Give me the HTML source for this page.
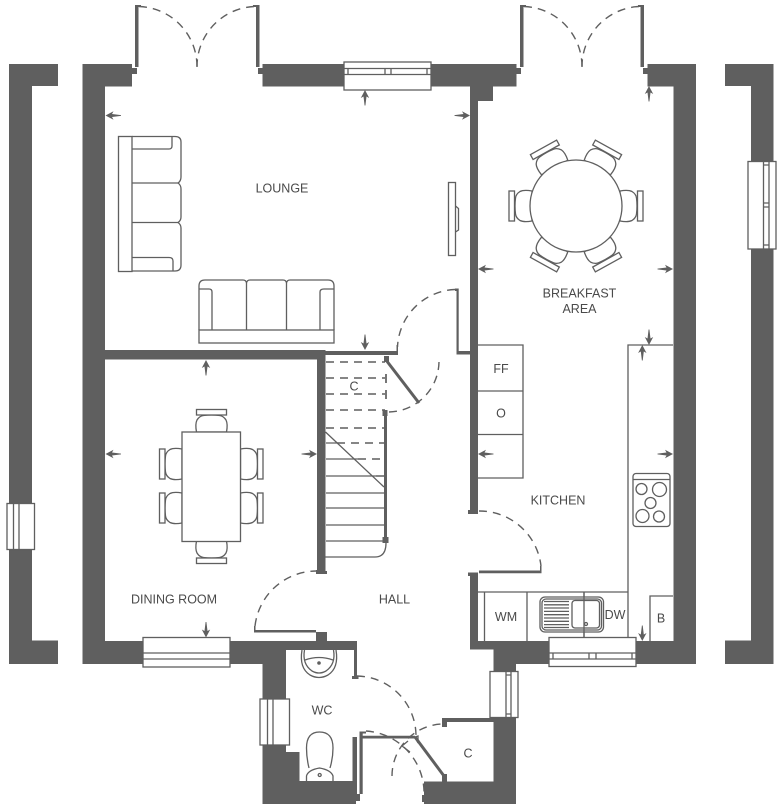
<!DOCTYPE html>
<html>
<head>
<meta charset="utf-8">
<style>
html,body{margin:0;padding:0;background:#fff;width:784px;height:808px;overflow:hidden}
svg{display:block}
.w{fill:#5f5f5f;stroke:none}
.l{fill:#fff;stroke:#5f5f5f;stroke-width:1.3}
.n{fill:none;stroke:#5f5f5f;stroke-width:1.3}
.d{fill:none;stroke:#5f5f5f;stroke-width:1.4;stroke-dasharray:8 6}
.t{fill:none;stroke:#5f5f5f;stroke-width:3}
text{font-family:"Liberation Sans",sans-serif;font-size:12.5px;fill:#4a4a4a;text-anchor:middle}
</style>
</head>
<body>
<svg width="784" height="808" viewBox="0 0 784 808" xmlns="http://www.w3.org/2000/svg">
<defs>
<path id="a" d="M0 0L8-4.200L6.500-1.500L15.500-.4V.4L6.500 1.500L8 4.200Z" fill="#5f5f5f"/>
<g id="c">
<path class="l" d="M44 -15Q52 -16.500 56 -14.500Q60 -12 60.500 -8Q61.500 0 60.500 8Q60 12 56 14.500Q52 16.500 44 15Z"/>
<rect class="l" x="61.500" y="-15" width="5.500" height="30"/>
</g>
<g id="ch">
<path class="l" d="M0 -15Q8 -16.500 12 -14.500Q16 -12 16.500 -8Q17.500 0 16.500 8Q16 12 12 14.500Q8 16.500 0 15Z"/>
<rect class="l" x="17" y="-15" width="5.500" height="30"/>
</g>
</defs>

<!-- far side walls -->
<path class="w" d="M9 64H58V86H32V640.500H58V664H9Z"/>
<path class="w" d="M725 64H773.500V664H725V640.500H751V86H725Z"/>
<rect class="l" x="7" y="503.500" width="27.500" height="46"/>
<path class="n" d="M13.500 503.500V549.500M19 503.500V549.500"/>
<rect class="l" x="748" y="161.500" width="28" height="87.500"/>
<path class="n" d="M763.500 161.500V249M769 161.500V249M763.500 165H769M763.500 203H769M763.500 207H769M763.500 245H769"/>

<!-- main walls -->
<path class="w" d="M82.500 64H132V86.500H105V641H143V664H82.500Z"/>
<path class="w" d="M262.500 64H516.500V86.500H493V101H478V514H468V510H470V86.500H262.500Z"/>
<path class="w" d="M647.500 64H696V664H636V641H673.500V86.500H647.500Z"/>
<path class="w" d="M468 572.500H478V641H549V664H516V671H493.500V649.500H470V576H468Z"/>
<path class="w" d="M105 350H325.500V571H327V574H316V570H317V359.500H105Z"/>
<rect class="w" x="325" y="351" width="72" height="4"/>
<rect class="w" x="396.500" y="345" width="1.500" height="10"/>
<path class="w" d="M230 641H357V676H358.500V679H352V676H354V650H286V699H262.500V664H230Z"/>
<rect class="w" x="316" y="632" width="11" height="10"/>
<path class="w" d="M262.500 745H286V752H299.500V781H352.500V737H357V794H360V801H356V804H262.500Z"/>
<path class="w" d="M424 781.500H493.500V722H447V727H442V718H493.500H516V804H424Z"/>
<rect class="w" x="422" y="795" width="3" height="7"/>

<!-- French doors -->
<path class="w" d="M135 5H141V7H138.500V67H135Z"/>
<path class="w" d="M256 67V7H253V5H259.500V67Z"/>
<path class="w" d="M132 68H137V74H132Z"/>
<path class="w" d="M258 68H263V74H258Z"/>
<path class="d" d="M139 6.500A60 60 0 0 1 197 67"/>
<path class="d" d="M254 6.500A60 60 0 0 0 197 67"/>
<path class="w" d="M520 5H526V7H523.500V67H520Z"/>
<path class="w" d="M640.500 67V7H638V5H644V67Z"/>
<path class="w" d="M516.500 68H521V74H516.500Z"/>
<path class="w" d="M643 68H648V74H643Z"/>
<path class="d" d="M524 6.500A60 60 0 0 1 582 67"/>
<path class="d" d="M639 6.500A60 60 0 0 0 582 67"/>

<!-- kitchen units (under windows) -->
<path class="n" d="M478 345H523V478H478M478 391H523M478 434.500H523"/>
<path class="n" d="M673 345H628V592H478M628 592V641M484.500 592V641M527 592V641M584 592V638M650 641V596H673"/>

<!-- windows -->
<rect class="l" x="344" y="62" width="87" height="28"/>
<path class="n" d="M344 68.500H431M344 74.500H431M348 68.500V74.500M385 68.500V74.500M391 68.500V74.500M427 68.500V74.500"/>
<rect class="l" x="143" y="637.500" width="87" height="29.500"/>
<path class="n" d="M143 653H230M143 659H230"/>
<rect class="l" x="549" y="637.500" width="87" height="29"/>
<path class="n" d="M549 653H636M549 659H636M553 653V659M589 653V659M596 653V659M632 653V659"/>
<rect class="l" x="260" y="699" width="29.500" height="46"/>
<path class="n" d="M267.500 699V745M273 699V745"/>
<rect class="l" x="490" y="671.500" width="28" height="46"/>
<path class="n" d="M506 671.500V717.500M511 671.500V717.500M506 675H511M506 714H511"/>

<!-- lounge sofas -->
<rect class="l" x="118.500" y="136.500" width="13.500" height="135"/>
<path class="n" d="M132 136.500H175Q181 136.500 181 142V177Q181 181 178 183Q181 185 181 189V217Q181 220.500 178 222.500Q181 224.500 181 228V265Q181 271 175 271H132"/>
<path class="n" d="M132 183H178M132 222.500H178M132 149H169Q172 149 172 146V136.500M132 257.500H169Q173 257.500 173 261V271"/>
<rect class="l" x="199" y="330" width="135" height="13"/>
<path class="n" d="M199 330V286Q199 280 205 280H243Q246 280 246.500 283Q247 280 250 280H283Q286 280 286.500 283Q287 280 290 280H328Q334 280 334 286V330"/>
<path class="n" d="M246.500 283V330M286.500 283V330M199 289H209Q212 289 212 292V330M334 289H324Q320 289 320 292V330"/>

<!-- TV -->
<rect class="l" x="448.500" y="182.500" width="7" height="73"/>
<path class="n" d="M455.500 206L458.500 208.500V230L455.500 232"/>

<!-- round table -->
<g transform="translate(576 206)">
<use href="#c"/>
<use href="#c" transform="rotate(61)"/>
<use href="#c" transform="rotate(119)"/>
<use href="#c" transform="rotate(180)"/>
<use href="#c" transform="rotate(241)"/>
<use href="#c" transform="rotate(299)"/>
<circle class="l" r="46"/>
</g>

<!-- dining table -->
<use href="#ch" transform="translate(240.500 464)"/>
<use href="#ch" transform="translate(240.500 508)"/>
<use href="#ch" transform="translate(182 464) rotate(180)"/>
<use href="#ch" transform="translate(182 508) rotate(180)"/>
<use href="#ch" transform="translate(211.500 432) rotate(-90)"/>
<use href="#ch" transform="translate(211.500 541) rotate(90)"/>
<rect class="l" x="182" y="432" width="58.500" height="109.500"/>

<!-- stairs -->
<path class="d" d="M326 362H385M326 378H385M326 394H385M326 410H385M326 428H385M337 443H385M358 459H385M376 476H385"/>
<path class="n" d="M326 443H337M326 459H358M326 476H376M326 493H384M326 508H384M326 525H384M326 541H384"/>
<path class="n" d="M325 557H375Q386 557 386 543"/>
<path class="n" d="M325.500 432L384 487"/>
<path class="n" d="M386 374V383M386 390V399" style="stroke-width:1.700"/>
<rect class="w" x="384" y="411" width="3" height="128"/>
<rect class="w" x="382.500" y="410" width="5" height="6"/>
<rect class="w" x="382.500" y="537" width="6" height="6"/>
<rect class="w" x="384" y="356" width="5" height="6"/>
<path class="t" d="M386 360L419 403"/>
<path class="d" d="M389 412A51 51 0 0 0 439 362"/>

<!-- door lounge/hall -->
<path class="w" d="M455 288.500H458.700V351H470V354.500H456.500V291H455Z"/>
<path class="d" d="M455 289.500A60 60 0 0 0 397.500 347"/>

<!-- dining door -->
<path class="w" d="M254 626H255.500V630H316V632.500H254Z"/>
<path class="d" d="M255 626A62 62 0 0 1 316 571"/>

<!-- kitchen door -->
<path class="w" d="M479 570.500H540V566H541.500V573.300H479Z"/>
<path class="d" d="M479 511A62 62 0 0 1 541 566"/>

<!-- kitchen appliances -->
<rect class="l" x="633" y="473.500" width="37" height="53" rx="3"/>
<path class="n" d="M633 479.500H670"/>
<circle class="n" cx="641.500" cy="489" r="5.500"/>
<circle class="n" cx="659.500" cy="489.500" r="7"/>
<circle class="n" cx="650.500" cy="503" r="5.500"/>
<circle class="n" cx="642.500" cy="516" r="6.500"/>
<circle class="n" cx="659" cy="516.500" r="5.500"/>
<rect class="l" x="540" y="597" width="63.500" height="35" rx="5"/>
<rect class="n" x="542" y="599" width="59.500" height="31" rx="4"/>
<rect class="n" x="572" y="600.500" width="27.500" height="27.500" rx="3"/>
<path class="n" d="M544 601.500H569M544 604.800H569M544 608H569M544 611.400H569M544 614.700H569M544 618H569M544 621.300H569M544 624.600H569M544 627.500H569"/>
<path class="n" d="M584 592V638"/>
<circle class="l" cx="586" cy="624" r="1.500"/>

<!-- WC -->
<path class="n" d="M302 650Q299 668 310 675Q319 680 328 675Q339 668 336 650"/>
<path class="n" d="M304.500 650Q302 664 312 671Q319 675 326 671Q336 664 333.500 650"/>
<path class="n" d="M305 660Q319 655 333 660"/>
<circle class="w" cx="319" cy="663" r="1.800"/>
<path class="n" d="M309 768Q306.500 758 306.500 748Q306.500 732 319.500 732Q333 732 333 748Q333 758 330 768"/>
<path class="n" d="M306.500 781V776Q308 770 319.500 768Q331 770 333 776V781"/>
<circle class="n" cx="319.700" cy="775" r="1.500"/>

<!-- hall/front doors -->
<path class="w" d="M359.500 731.500H366V733.500H362.700V735.700H415V738.500H362.700V794H359.500Z"/>
<path class="t" d="M415 737L444 776"/>
<rect class="w" x="442" y="774" width="5" height="8"/>
<path class="d" d="M357 676A60 60 0 0 1 416 735"/>
<path class="d" d="M366 731A62 62 0 0 1 424 795"/>
<path class="d" d="M392 776A52 52 0 0 1 445 724"/>
<path class="n" d="M408 741L402 746L410 752M415 737L418 736V743Z"/>

<!-- arrows -->
<use href="#a" transform="translate(105.500 115.500)"/>
<use href="#a" transform="translate(470 115.500) rotate(180)"/>
<use href="#a" transform="translate(365 90) rotate(90)"/>
<use href="#a" transform="translate(365 350) rotate(-90)"/>
<use href="#a" transform="translate(206 360) rotate(90)"/>
<use href="#a" transform="translate(105.500 454)"/>
<use href="#a" transform="translate(317 454) rotate(180)"/>
<use href="#a" transform="translate(206 637.500) rotate(-90)"/>
<use href="#a" transform="translate(649 86) rotate(90)"/>
<use href="#a" transform="translate(478 269)"/>
<use href="#a" transform="translate(673 269) rotate(180)"/>
<use href="#a" transform="translate(649 345) rotate(-90)"/>
<use href="#a" transform="translate(642.300 345) rotate(90)"/>
<use href="#a" transform="translate(478 454)"/>
<use href="#a" transform="translate(673 454) rotate(180)"/>
<use href="#a" transform="translate(642.300 641) rotate(-90)"/>

<!-- labels -->
<text x="282" y="192.500">LOUNGE</text>
<text x="579.500" y="297.500">BREAKFAST</text>
<text x="579.500" y="313">AREA</text>
<text x="174" y="603.500">DINING ROOM</text>
<text x="394.500" y="603.500">HALL</text>
<text x="558" y="504.500">KITCHEN</text>
<text x="322" y="714.500">WC</text>
<text x="354" y="390.500">C</text>
<text x="468" y="757.500">C</text>
<text x="501" y="373">FF</text>
<text x="501" y="417.500">O</text>
<text x="506" y="621">WM</text>
<text x="615" y="619">DW</text>
<text x="661" y="622.500">B</text>
</svg>
</body>
</html>
